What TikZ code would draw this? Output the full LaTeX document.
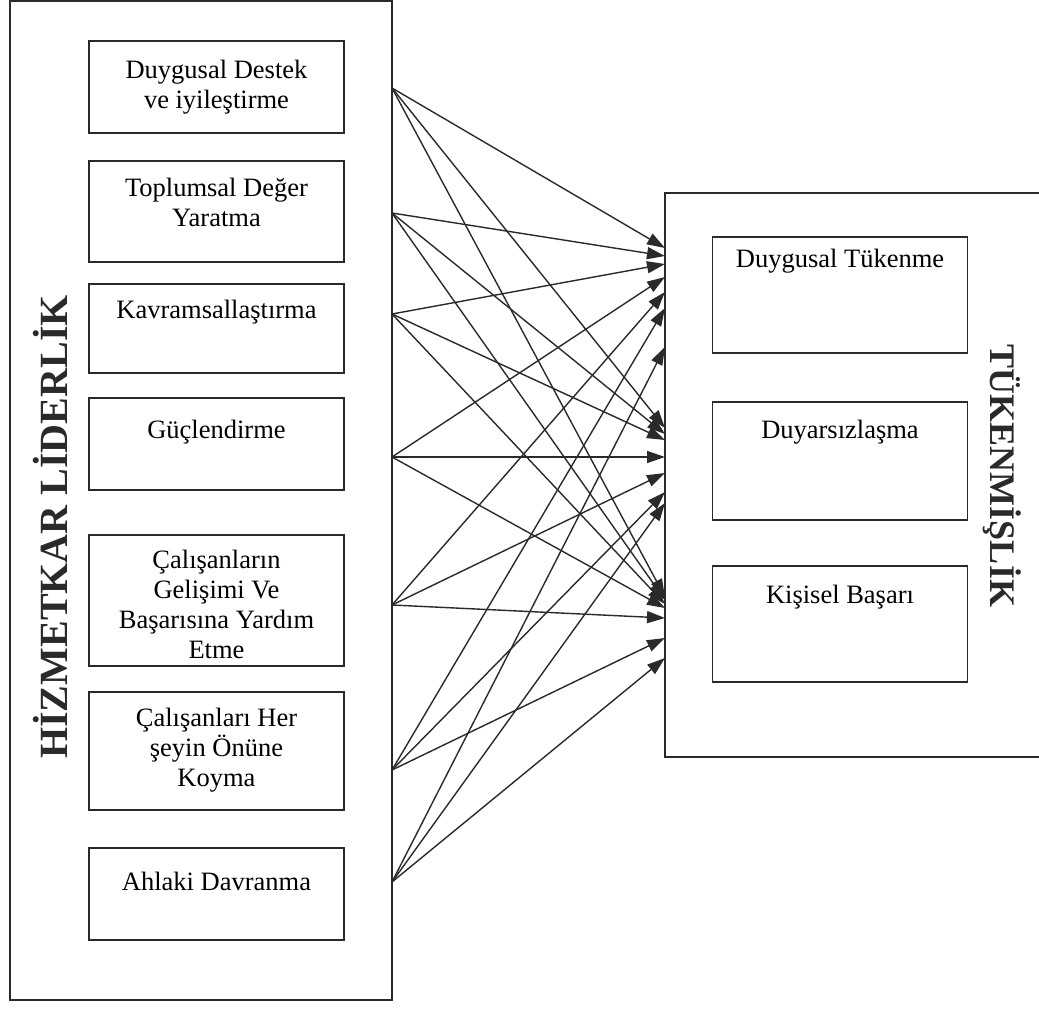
\documentclass[tikz,border=0pt]{standalone}
\usepackage{fontspec}
\setmainfont{Liberation Serif}
\usetikzlibrary{arrows.meta}
\definecolor{ink}{HTML}{2A2A2A}
\begin{document}
\begin{tikzpicture}[x=1pt,y=-1pt,
  box/.style={draw=ink, line width=1.2pt, minimum width=255pt, inner sep=0pt},
  txt/.style={anchor=north, align=center, inner sep=0pt, font=\fontsize{26.5}{30}\selectfont, text=black},
  ttl/.style={inner sep=0pt, text=ink},
  arr/.style={draw=ink, line width=1.4pt, -{Triangle[length=18pt,width=12pt]}}]
\useasboundingbox (0,0) rectangle (1039,1014);
% outer boxes
\node[draw=ink, line width=1.3pt, minimum width=382pt, minimum height=999pt, inner sep=0pt] (L) at (201,500.5) {};
\draw[ink, line width=1.3pt] (1045,193) coordinate (rtr) -- (665,193) coordinate (rtl) -- (665,757) coordinate (rbl) -- (1045,757) coordinate (rbr);
% left inner boxes
\node[box, minimum height=92pt]  (b1) at (216.5,87) {};
\node[box, minimum height=101pt] (b2) at (216.5,211.5) {};
\node[box, minimum height=89pt]  (b3) at (216.5,328.5) {};
\node[box, minimum height=92pt]  (b4) at (216.5,444) {};
\node[box, minimum height=131pt] (b5) at (216.5,600.5) {};
\node[box, minimum height=118pt] (b6) at (216.5,751) {};
\node[box, minimum height=92pt]  (b7) at (216.5,894) {};
\node[txt] (l1) at (216.5,60) {Duygusal Destek\\ve iyileştirme};
\node[txt] (l2) at (216.5,178) {Toplumsal Değer\\Yaratma};
\node[txt] (l3) at (216.5,300) {Kavramsallaştırma};
\node[txt] (l4) at (216.5,420) {Güçlendirme};
\node[txt] (l5) at (216.5,550) {Çalışanların\\Gelişimi Ve\\Başarısına Yardım\\Etme};
\node[txt] (l6) at (216.5,708) {Çalışanları Her\\şeyin Önüne\\Koyma};
\node[txt] (l7) at (216.5,872) {Ahlaki Davranma};
% right inner boxes
\node[box, minimum height=116pt] (r1) at (840,295) {};
\node[box, minimum height=118pt] (r2) at (840,461) {};
\node[box, minimum height=116pt] (r3) at (840,624) {};
\node[txt] (m1) at (840,249) {Duygusal Tükenme};
\node[txt] (m2) at (840,420) {Duyarsızlaşma};
\node[txt] (m3) at (840,585) {Kişisel Başarı};
% titles
\node[ttl, rotate=90, font=\bfseries\fontsize{40}{48}\selectfont] (tl) at (50,527) {HİZMETKAR LİDERLİK};
\node[ttl, rotate=-90, font=\bfseries\fontsize{36}{44}\selectfont] (tr) at (1002,476) {TÜKENMİŞLİK};
% connector ends
\foreach \i/\y in {1/88,2/213,3/314,4/457,5/605,6/770,7/882} \coordinate (s\i) at (392,\y);
\foreach \i/\y in {1/248,2/256,3/264,4/277,5/292,6/308,7/347} \coordinate (ta\i) at (665,\y);
\foreach \i/\y in {1/428,2/434,3/440,4/457,5/473,6/492,7/503} \coordinate (tb\i) at (665,\y);
\foreach \i/\y in {1/597,2/600,3/604,4/608,5/618,6/638,7/658} \coordinate (tc\i) at (665,\y);
\foreach \i in {1,...,7}{
  \draw[arr] (s\i) -- (ta\i);
  \draw[arr] (s\i) -- (tb\i);
  \draw[arr] (s\i) -- (tc\i);
}
\end{tikzpicture}
\end{document}
